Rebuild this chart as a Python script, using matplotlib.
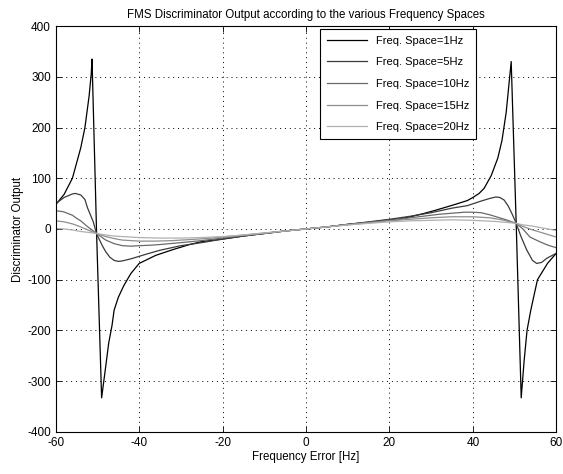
#! /usr/bin/env python3
# FMS discriminator output for several frequency spacings

import matplotlib
matplotlib.use("Agg")
import matplotlib.pyplot as plt

plt.rcParams['font.family'] = ['Liberation Sans', 'DejaVu Sans']
plt.rcParams['axes.unicode_minus'] = False

# Freq. Space = 1 Hz
x_1hz = [-60, -58, -56, -54, -53, -52, -51.5, -51.3, -50.2, -49.0, -48, -47.3, -46.5, -46, -45,
         -43.7, -42, -40, -38, -36, -32, -28, -25, -20, -15, -10, -5, 0,
         5, 10, 15, 20, 22.7, 25, 28, 30.7, 34, 36, 38.7, 40, 41.5, 42.7, 44.4, 46, 47, 48, 49.2,
         50.4, 51.6, 52.3, 53, 53.9, 55.5, 57.9, 60]
y_1hz = [48, 68, 100, 160, 200, 262, 305, 335, -10, -333, -270, -225, -190, -160, -135,
         -112, -88, -68, -60, -52, -41, -31, -25, -20, -14, -9, -4, 0,
         4, 9, 13, 18, 20, 24, 30, 36, 44, 49, 56, 62, 70, 80, 105, 140, 175, 230, 330,
         10, -333, -260, -200, -160, -100, -68, -48]

# Freq. Space = 5 Hz
x_5hz = [-60, -58, -56, -55.3, -54, -53, -52.4, -51, -50.2, -48.7, -48, -47, -46, -45, -44,
         -42, -40, -38, -35, -30, -25, -20, -15, -10, -5, 0,
         5, 10, 15, 20, 25, 30, 35, 38.7, 42, 44, 45.5, 46.5, 47.5, 48.5, 49.5, 50.4,
         51.5, 52.9, 54.3, 55.3, 56.5, 57.7, 60]
y_5hz = [50, 62, 69, 70, 67, 58, 42, 14, -10, -35, -45, -56, -62, -64, -63,
         -59, -54, -49, -42, -33, -27, -20, -14, -9, -4, 0,
         4, 9, 14, 19, 25, 32, 41, 46, 55, 60, 63, 62, 57, 45, 28, 11,
         -14, -41, -62, -68, -66, -58, -48]

# Freq. Space = 10 Hz
x_10hz = [-60, -58.2, -56, -55, -54, -52.6, -50.2, -48, -46, -44, -42, -40, -37, -34, -30,
          -25, -20, -15, -10, -5, 0, 5, 10, 15, 20, 25, 30, 32, 35, 38, 40, 42, 44, 46, 48,
          50.4, 52, 53.7, 56, 58, 60]
y_10hz = [36, 34, 27, 21, 16, 6, -9, -22, -29, -33, -34, -33, -32, -30, -27,
          -23, -18, -13, -9, -4, 0, 4, 9, 13, 17, 22, 27, 29, 31, 33, 33, 32, 28, 23, 18,
          11, 0, -16, -25, -32, -37]

# Freq. Space = 15 Hz
x_15hz = [-60, -58, -56, -54, -52, -50.2, -48, -46, -44, -42, -40, -36, -32, -28, -24, -20,
          -15, -10, -5, 0, 5, 10, 15, 20, 25, 30, 35, 40, 44, 47, 50.4, 52, 54, 56, 58, 60]
y_15hz = [16, 14, 10, 4, -3, -9, -15, -19, -22, -23, -24, -24, -23, -21, -19, -16,
          -12, -8, -4, 0, 4, 8, 12, 16, 19, 22, 24, 24, 22, 18, 11, 5, -1, -6, -11, -16]

# Freq. Space = 20 Hz
x_20hz = [-60, -58, -56, -54, -52, -50.2, -48, -46, -44, -40, -35, -30, -25, -20, -15, -10,
          -5, 0, 5, 10, 15, 20, 25, 30, 35, 40, 45, 48, 50.4, 52, 54, 56, 58, 60]
y_20hz = [1, 0, -2, -5, -7, -9, -12, -14, -15, -17, -18, -18, -17, -15, -12, -8,
          -4, 0, 4, 8, 11, 14, 16, 17, 18, 17, 15, 13, 11, 8, 6, 3, 0, -3]

labels = ['Freq. Space=1Hz', 'Freq. Space=5Hz', 'Freq. Space=10Hz',
          'Freq. Space=15Hz', 'Freq. Space=20Hz']
grays = ['#000000', '#3a3a3a', '#6a6a6a', '#8e8e8e', '#b0b0b0']

x_ticks = [-60, -40, -20, 0, 20, 40, 60]
y_ticks = [-400, -300, -200, -100, 0, 100, 200, 300, 400]


def main():
    fig = plt.figure(figsize=(5.63, 4.74), dpi=100)
    ax = fig.add_axes([0.099, 0.089, 0.889, 0.856])

    series = [(x_1hz, y_1hz), (x_5hz, y_5hz), (x_10hz, y_10hz),
              (x_15hz, y_15hz), (x_20hz, y_20hz)]
    for (xs, ys), lab, col in zip(series, labels, grays):
        ax.plot(xs, ys, color=col, linewidth=0.9, label=lab)

    ax.set_xlim(-60, 60)
    ax.set_ylim(-400, 400)
    ax.set_xticks(x_ticks)
    ax.set_yticks(y_ticks)
    ax.tick_params(direction='in', top=True, right=True, labelsize=8.5, length=4, width=0.6)
    ax.grid(True, color='black', linestyle=(0, (1, 4)), linewidth=0.7)
    for sp in ax.spines.values():
        sp.set_linewidth(0.8)

    ax.set_title('FMS Discriminator Output according to the various Frequency Spaces',
                 fontsize=8.3, pad=6)
    ax.set_xlabel('Frequency Error [Hz]', fontsize=8.3, labelpad=2)
    ax.set_ylabel('Discriminator Output', fontsize=8.3, labelpad=2)

    leg = ax.legend(loc='upper left', bbox_to_anchor=(0.528, 0.993), borderaxespad=0,
                    fontsize=8, fancybox=False, framealpha=1, edgecolor='black',
                    handlelength=3.6, labelspacing=1.05, handletextpad=0.8,
                    borderpad=0.6)
    leg.get_frame().set_linewidth(0.8)

    plt.savefig('out.png', dpi=100)
    plt.close()


if __name__ == '__main__':
    main()
